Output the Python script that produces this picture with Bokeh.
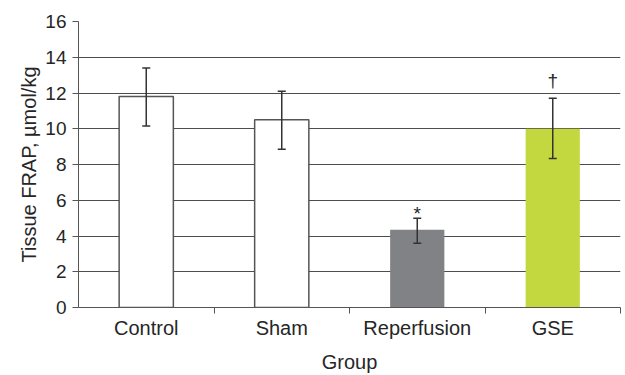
from bokeh.plotting import figure
from bokeh.models import ColumnDataSource, FixedTicker, Whisker, TeeHead, Range1d
from bokeh.core.properties import value
from bokeh.embed import file_html
from bokeh.resources import INLINE

groups = ["Control", "Sham", "Reperfusion", "GSE"]
means = [11.8, 10.5, 4.35, 10.0]
upper = [13.4, 12.1, 5.0, 11.7]
lower = [10.15, 8.85, 3.6, 8.33]
fills = ["#ffffff", "#ffffff", "#808285", "#c3d83f"]
lines = ["#555555", "#555555", None, None]
marks = ["", "", "*", "\u2020"]
y_ticks = [0, 2, 4, 6, 8, 10, 12, 14, 16]

xpos = [i + 0.5 for i in range(len(groups))]
src = ColumnDataSource(dict(x=xpos, top=means, upper=upper, lower=lower,
                            fill=fills, line=lines))

FONT = "Liberation Sans"
TXT = "#262626"

p = figure(width=625, height=375, output_backend="svg", toolbar_location=None,
           x_range=Range1d(0, 4), y_range=Range1d(0, 16),
           min_border_left=78, min_border_right=5, min_border_top=21, min_border_bottom=66)
p.outline_line_color = None
p.background_fill_color = "white"
p.border_fill_color = "white"

p.xgrid.visible = False
p.ygrid.ticker = FixedTicker(ticks=y_ticks)
p.ygrid.grid_line_color = "#4d4d4d"
p.ygrid.grid_line_width = 1

p.vbar(x="x", top="top", width=0.4, bottom=0, source=src, fill_color="fill",
       line_color="line", line_width=1.5)

w = Whisker(base="x", upper="upper", lower="lower", source=src,
            line_color="#333333", line_width=1.5, level="overlay",
            upper_head=TeeHead(size=8, line_color="#333333", line_width=1.5),
            lower_head=TeeHead(size=8, line_color="#333333", line_width=1.5))
p.add_layout(w)

# significance marks above the upper error caps
p.text(x=[xpos[2]], y=[upper[2]], text=[marks[2]], text_align="center",
       text_baseline="alphabetic", y_offset=-5, text_font=value(FONT),
       text_font_size="19px", text_color=TXT)
p.text(x=[xpos[3]], y=[upper[3]], text=[marks[3]], text_align="center",
       text_baseline="alphabetic", y_offset=-18, text_font=value(FONT),
       text_font_size="19px", text_color=TXT)

# y axis
p.yaxis.ticker = FixedTicker(ticks=y_ticks)
p.yaxis.axis_label = "Tissue FRAP, \u00b5mol/kg"
p.yaxis.axis_label_text_font = FONT
p.yaxis.axis_label_text_font_style = "normal"
p.yaxis.axis_label_text_font_size = "20px"
p.yaxis.axis_label_text_color = TXT
p.yaxis.axis_label_standoff = 2
p.yaxis.major_label_text_font = FONT
p.yaxis.major_label_text_font_size = "19px"
p.yaxis.major_label_text_color = TXT
p.yaxis.major_label_standoff = 6
p.yaxis.major_tick_in = 0
p.yaxis.major_tick_out = 6
p.yaxis.minor_tick_line_color = None
p.yaxis.axis_line_color = "#555555"
p.yaxis.major_tick_line_color = "#555555"

# x axis: ticks between categories
p.xaxis.ticker = FixedTicker(ticks=xpos, minor_ticks=[1, 2, 3, 4])
p.xaxis.major_label_overrides = {x: g for x, g in zip(xpos, groups)}
p.xaxis.major_tick_line_color = None
p.xaxis.major_tick_in = 0
p.xaxis.major_tick_out = 6
p.xaxis.minor_tick_in = 0
p.xaxis.minor_tick_out = 6
p.xaxis.minor_tick_line_color = "#555555"
p.xaxis.axis_line_color = "#555555"
p.xaxis.axis_label = "Group"
p.xaxis.axis_label_text_font = FONT
p.xaxis.axis_label_text_font_style = "normal"
p.xaxis.axis_label_text_font_size = "20px"
p.xaxis.axis_label_text_color = TXT
p.xaxis.axis_label_standoff = 9
p.xaxis.major_label_text_font = FONT
p.xaxis.major_label_text_font_size = "20px"
p.xaxis.major_label_text_color = TXT
p.xaxis.major_label_standoff = 3

open("out.html", "w").write(file_html(p, INLINE))
